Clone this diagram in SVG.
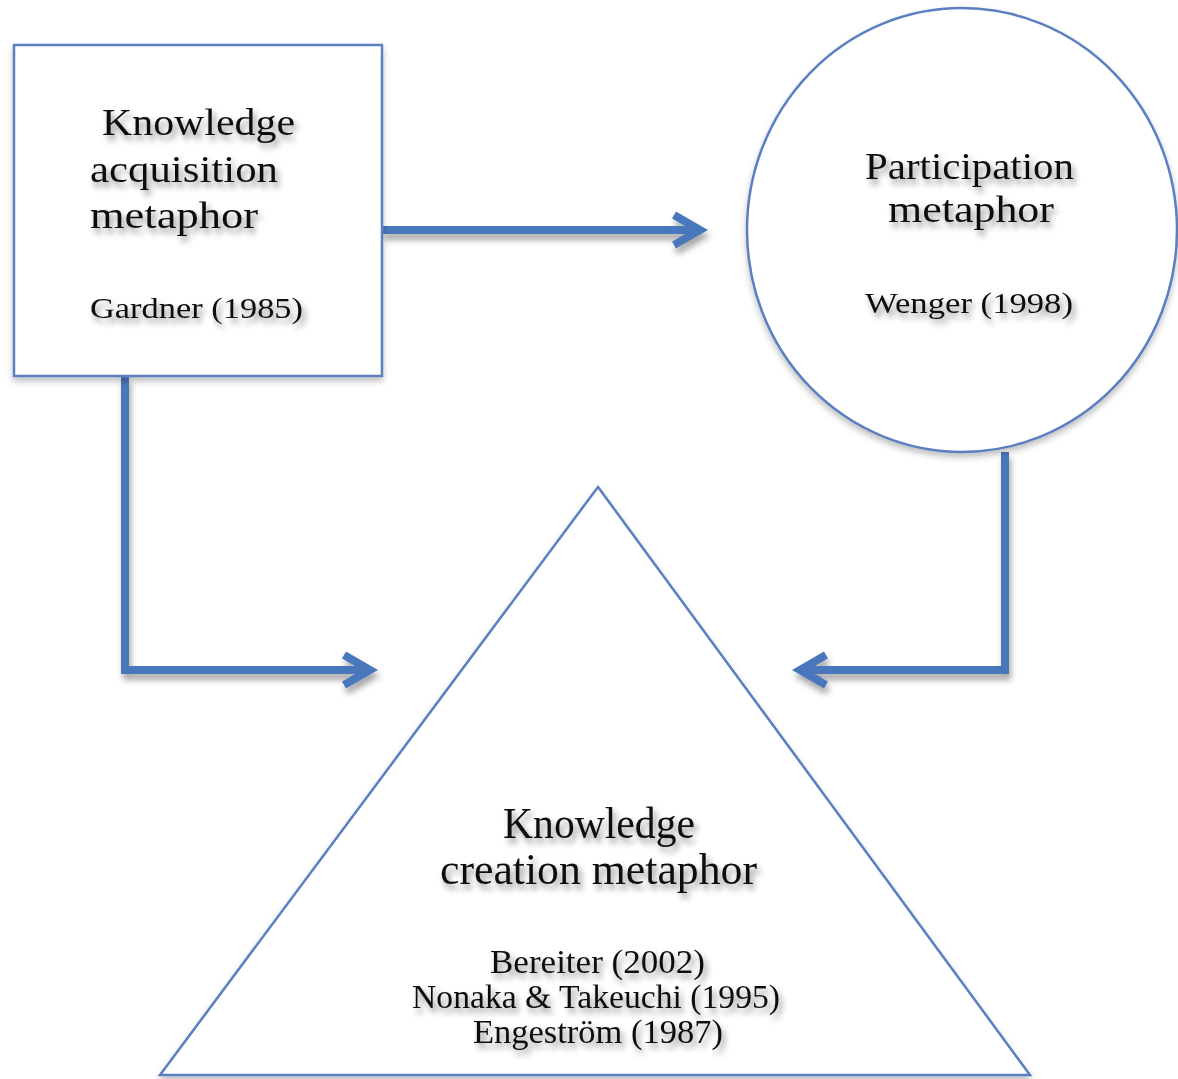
<svg xmlns="http://www.w3.org/2000/svg" width="1178" height="1079" viewBox="0 0 1178 1079">
<defs>
<style>
.shape{fill:#ffffff;stroke:#5b7fc0;stroke-width:2.5;filter:url(#shShadow)}
.conn{fill:none;stroke:#4a77bb;stroke-width:8;stroke-linejoin:miter;filter:url(#lnShadow)}
.t{font-family:"Liberation Serif","DejaVu Serif",serif;fill:#111111;filter:url(#txShadow)}
.big{font-size:38px}
.cite{font-size:30px}
.tbig{font-size:44px}
.tcite{font-size:34px}
</style>
<filter id="txShadow" x="-20%" y="-40%" width="140%" height="200%">
<feDropShadow dx="3" dy="5" stdDeviation="3" flood-color="#000" flood-opacity="0.45"/>
</filter>
<filter id="lnShadow" filterUnits="userSpaceOnUse" x="0" y="0" width="1178" height="1079">
<feDropShadow dx="2" dy="6" stdDeviation="3" flood-color="#000" flood-opacity="0.35"/>
</filter>
<filter id="shShadow" x="-10%" y="-10%" width="120%" height="120%">
<feDropShadow dx="0" dy="4" stdDeviation="3" flood-color="#000" flood-opacity="0.25"/>
</filter>
<marker id="chev" markerUnits="userSpaceOnUse" orient="auto" refX="0" refY="0" markerWidth="40" markerHeight="40" overflow="visible">
<path d="M-26,-15 L0,0 L-26,15" fill="none" stroke="#4a77bb" stroke-width="8" stroke-linejoin="miter"/>
</marker>
</defs>
<rect width="1178" height="1079" fill="#ffffff"/>

<g id="connectors">
<path class="conn" d="M382,230 H700" marker-end="url(#chev)"/>
<path class="conn" d="M125,376 V670 H370" marker-end="url(#chev)"/>
<path class="conn" d="M1005,452 V670 H800" marker-end="url(#chev)"/>
</g>

<g id="node-acquisition">
<rect class="shape" x="14" y="45" width="368" height="331"/>
<text class="t big" x="102" y="135" textLength="193" lengthAdjust="spacingAndGlyphs">Knowledge</text>
<text class="t big" x="90" y="182" textLength="188" lengthAdjust="spacingAndGlyphs">acquisition</text>
<text class="t big" x="90" y="228" textLength="168" lengthAdjust="spacingAndGlyphs">metaphor</text>
<text class="t cite" x="90" y="318" textLength="213" lengthAdjust="spacingAndGlyphs">Gardner (1985)</text>
</g>

<g id="node-participation">
<ellipse class="shape" cx="962" cy="230" rx="215" ry="222"/>
<text class="t big" x="865" y="179" textLength="209" lengthAdjust="spacingAndGlyphs">Participation</text>
<text class="t big" x="888" y="222" textLength="166" lengthAdjust="spacingAndGlyphs">metaphor</text>
<text class="t cite" x="865" y="313" textLength="208" lengthAdjust="spacingAndGlyphs">Wenger (1998)</text>
</g>

<g id="node-creation">
<polygon class="shape" points="598,487 1030,1075 160,1075"/>
<text class="t tbig" x="503" y="838" textLength="192" lengthAdjust="spacingAndGlyphs">Knowledge</text>
<text class="t tbig" x="440" y="884" textLength="317" lengthAdjust="spacingAndGlyphs">creation metaphor</text>
<text class="t tcite" x="490" y="973" textLength="215" lengthAdjust="spacingAndGlyphs">Bereiter (2002)</text>
<text class="t tcite" x="412" y="1008" textLength="368" lengthAdjust="spacingAndGlyphs">Nonaka &amp; Takeuchi (1995)</text>
<text class="t tcite" x="473" y="1043" textLength="250" lengthAdjust="spacingAndGlyphs">Engeström (1987)</text>
</g>
</svg>
